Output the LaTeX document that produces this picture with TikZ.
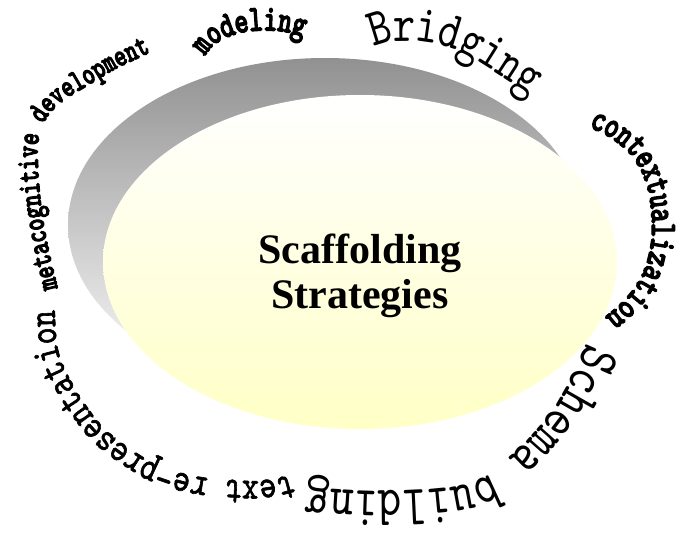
\documentclass[tikz,border=0pt]{standalone}
\usepackage{fontspec}
\setmainfont{Liberation Serif}
\newfontfamily\wordbold[FakeStretch=0.72,FakeBold=3]{lmmonolt10-bold.otf}
\newfontfamily\wordmid[FakeStretch=0.8,FakeBold=1.5]{lmmono10-regular.otf}
\newfontfamily\wordreg[FakeStretch=0.8]{lmmono10-regular.otf}
\usetikzlibrary{decorations.text}
\definecolor{discgrey}{RGB}{145,145,145}
\definecolor{discyellow}{RGB}{255,255,198}

\begin{document}
\begin{tikzpicture}[x=1pt, y=-1pt,
    wordpath/.style={decorate, decoration={text along path, text align=left}}]
    \useasboundingbox (0,0) rectangle (685,535);

    % back disc
    \shade[top color=discgrey, bottom color=white] (325,225) ellipse [x radius=257, y radius=167];
    % front disc
    \shade[top color=white, bottom color=discyellow] (360,262) ellipse [x radius=257, y radius=167];

    \node[font=\fontsize{42}{45}\selectfont\bfseries, align=center] (title) at (360,276) {Scaffolding\\Strategies};

    % words round the discs, clockwise
    \path[wordpath, decoration={text={|\wordbold\fontsize{32}{32}\selectfont|metacognitive development}, raise=-3pt}]
        plot[smooth] coordinates {(55,289) (47,255) (41,225) (37,195) (35,165) (35,145) (39,126) (49,110) (65,96) (88,82) (113,67) (138,55) (158,46) (185,37) (200,33)};
    \path[wordpath, decoration={text={|\wordbold\fontsize{37}{37}\selectfont|modeling}, raise=-3.5pt}]
        plot[smooth] coordinates {(202,54) (211,43) (224,35) (242,29) (262,27) (282,28) (300,32) (320,40) (337,50)};
    \path[wordpath, decoration={text={|\wordreg\fontsize{53}{53}\selectfont|Bridging}, raise=-7pt}]
        plot[smooth] coordinates {(372,40) (387,35) (410,34) (430,36) (450,41) (470,49) (490,61) (510,74) (530,86) (548,98) (565,112)};
    \path[wordpath, xshift=-8pt, decoration={text={|\wordbold\fontsize{37.5}{37.5}\selectfont|contextualization}, raise=-3.5pt}]
        plot[smooth] coordinates {(598,124) (619,134) (639,150) (652,169) (660,192) (663,216) (663,240) (657,267) (645,290) (630,307) (612,322) (595,333)};
    \path[wordpath, decoration={text={|\wordreg\fontsize{57}{57}\selectfont|Schema building}, raise=-6pt}]
        plot[smooth] coordinates {(593,345) (585,363) (575,383) (564,403) (551,421) (537,438) (521,454) (505,469) (488,482) (465,491) (443,494) (420,496) (395,497) (372,497) (348,496) (320,494) (295,491) (275,487)};
    \path[wordpath, decoration={text={|\wordmid\fontsize{40.5}{40.5}\selectfont|text re-presentation}, raise=-4pt}]
        plot[smooth] coordinates {(292,478) (282,481) (265,484) (252,485) (235,484) (217,483) (200,481) (185,478) (168,473) (150,466) (137,458) (122,448) (108,437) (95,424) (83,408) (73,393) (65,378) (58,363) (54,350) (52,335) (51,316) (51,295) (52,280)};

\end{tikzpicture}
\end{document}
